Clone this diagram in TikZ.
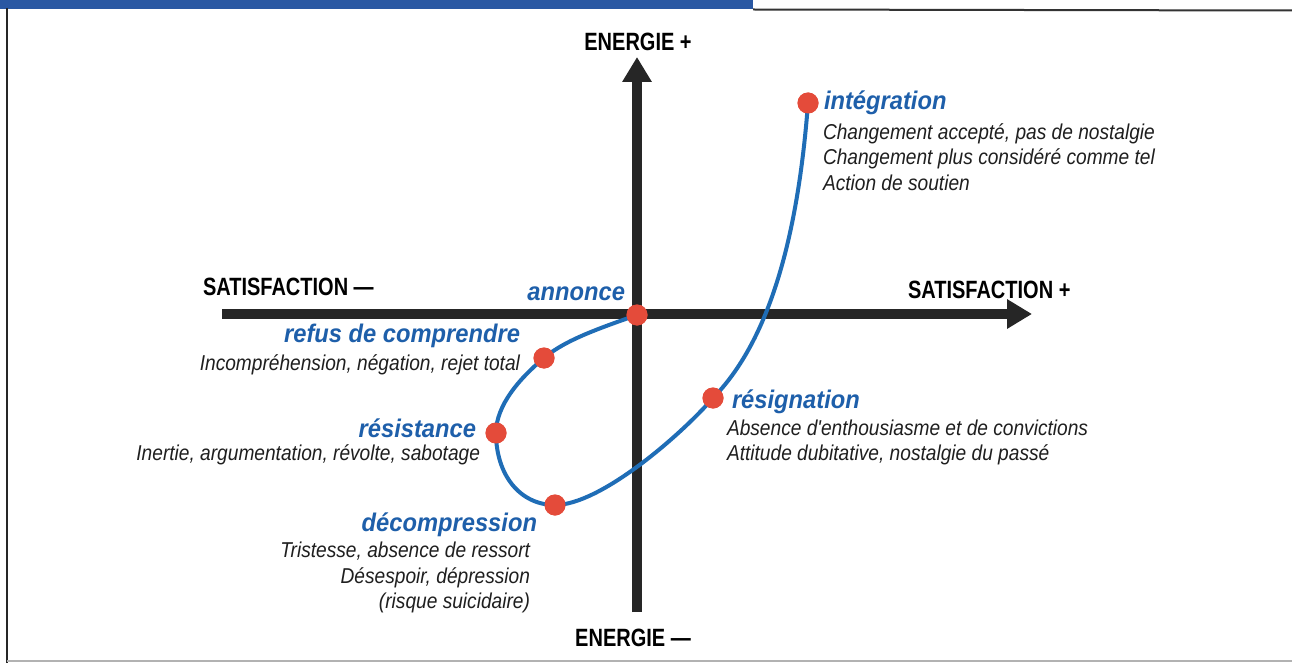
\documentclass[tikz,border=0pt]{standalone}
\usepackage{fontspec}
\setmainfont{Liberation Sans}
\newfontfamily\axf[FakeStretch=0.80]{Liberation Sans}
\newfontfamily\hdf[FakeStretch=0.93]{Liberation Sans}
\newfontfamily\txf[FakeStretch=0.89]{Liberation Sans}
\usetikzlibrary{arrows.meta}
\definecolor{barblue}{HTML}{2A58A3}
\definecolor{curveblue}{HTML}{1F6DB6}
\definecolor{headblue}{HTML}{1E5FAA}
\definecolor{dotred}{HTML}{E44B3A}
\definecolor{axisgray}{HTML}{262626}
\begin{document}
\begin{tikzpicture}[x=1pt,y=-1pt,
  axislbl/.style={font=\axf\bfseries\fontsize{25}{28}\selectfont, text=black, inner sep=0pt, outer sep=0pt},
  head/.style={font=\hdf\bfseries\itshape\fontsize{25.5}{30}\selectfont, text=headblue, inner sep=0pt, outer sep=0pt},
  desc/.style={font=\txf\itshape\fontsize{21.5}{25}\selectfont, text=black!88, inner sep=0pt, outer sep=0pt},
  dot/.style={circle, fill=dotred, minimum size=21pt, inner sep=0pt},
  axisline/.style={line width=9.5pt, draw=axisgray, -{Triangle[width=28pt,length=25pt]}},
  curveline/.style={draw=curveblue, line width=4pt}
]
\useasboundingbox (0,0) rectangle (1292,663);
\fill[white] (0,0) rectangle (1292,663);
% frame
\fill[barblue] (0,0) rectangle (753,9);
\draw[line width=2pt, black!80] (753,9.5) -- (1292,10.5);
\draw[line width=2pt, black!85] (7,8) -- (7,663);
\draw[line width=1.5pt, black!30] (7,661) -- (1292,661);

% axes
\coordinate (hl) at (222,314);
\coordinate (hr) at (1032,314);
\coordinate (vb) at (637,612);
\coordinate (vt) at (637,57);
\draw[axisline] (hl) -- (hr);
\draw[axisline] (vb) -- (vt);

% points
\node[dot] (annonce) at (637,315) {};
\node[dot] (refus) at (544,358) {};
\node[dot] (resist) at (496,433) {};
\node[dot] (decomp) at (555,505) {};
\node[dot] (resign) at (713,398) {};
\node[dot] (integ) at (808,103) {};

% curve
\draw[curveline]
  (annonce.center) .. controls (600,328) and (565,340) .. (refus.center)
  .. controls (520,378) and (496,405) .. (resist.center)
  .. controls (496,475) and (520,505) .. (decomp.center)
  .. controls (600,505) and (680,436) .. (resign.center)
  .. controls (770,340) and (798,235) .. (integ.center);
% dots on top of the curve
\foreach \p in {annonce,refus,resist,decomp,resign,integ}
  \fill[dotred] (\p.center) circle (10.5pt);

% axis labels
\node[axislbl, anchor=base] (eplus) at (638,51) {ENERGIE +};
\node[axislbl, anchor=base] (emoins) at (633,646) {ENERGIE —};
\node[axislbl, anchor=base west] (smoins) at (203,295) {SATISFACTION —};
\node[axislbl, anchor=base west] (splus) at (908,298) {SATISFACTION +};

% headings and descriptions
\node[head, anchor=base east] (tannonce) at (625,300) {annonce};

\node[head, anchor=base east] (trefus) at (520,342) {refus de comprendre};
\node[desc, anchor=base east] (drefus) at (520,370) {Incompréhension, négation, rejet total};

\node[head, anchor=base east] (tresist) at (476,437) {résistance};
\node[desc, anchor=base east] (dresist) at (480,460) {Inertie, argumentation, révolte, sabotage};

\node[head, anchor=base east] (tdecomp) at (537,531) {décompression};
\node[desc, anchor=base east] (ddecompa) at (530,557) {Tristesse, absence de ressort};
\node[desc, anchor=base east] (ddecompb) at (530,583) {Désespoir, dépression};
\node[desc, anchor=base east] (ddecompc) at (530,608) {(risque suicidaire)};

\node[head, anchor=base west] (tresign) at (732,408) {résignation};
\node[desc, anchor=base west] (dresigna) at (727,435) {Absence d'enthousiasme et de convictions};
\node[desc, anchor=base west] (dresignb) at (727,460) {Attitude dubitative, nostalgie du passé};

\node[head, anchor=base west] (tinteg) at (824,110) {intégration};
\node[desc, anchor=base west] (dintega) at (823,140) {Changement accepté, pas de nostalgie};
\node[desc, anchor=base west] (dintegb) at (823,165) {Changement plus considéré comme tel};
\node[desc, anchor=base west] (dintegc) at (823,190) {Action de soutien};
\end{tikzpicture}
\end{document}
